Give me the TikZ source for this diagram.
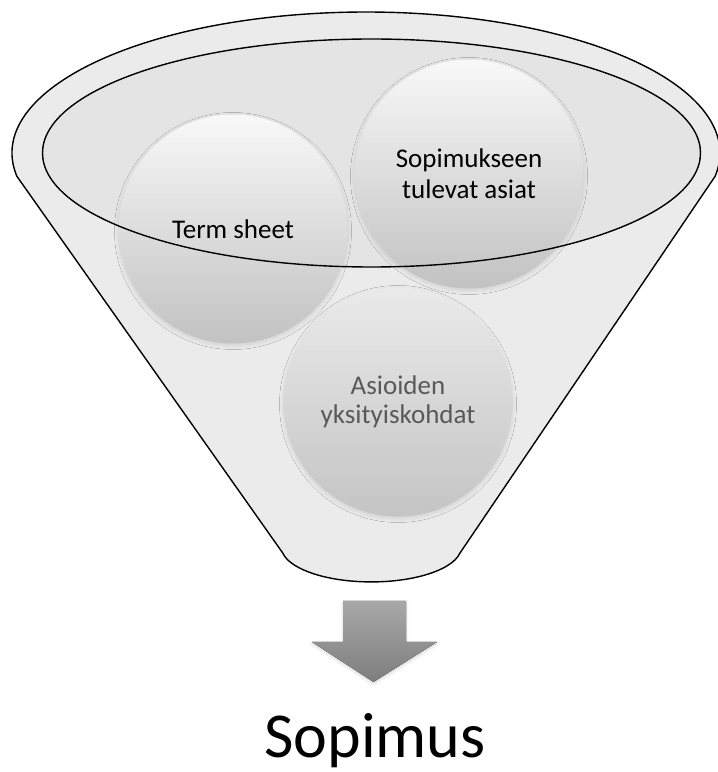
\documentclass[tikz,border=0pt]{standalone}
\usepackage{fontspec}
\setmainfont{Carlito}
\usetikzlibrary{shadows.blur}
\definecolor{funnelfill}{HTML}{EBEBEB}
\definecolor{innerfill}{HTML}{E4E4E4}
\definecolor{ballTop}{HTML}{F8F8F8}
\definecolor{ballBot}{HTML}{C2C2C2}
\definecolor{ball3Top}{HTML}{EAEAEA}
\definecolor{ball3Bot}{HTML}{C4C4C4}
\definecolor{txtgray}{HTML}{595959}
\definecolor{arrTop}{HTML}{A8A8A8}
\definecolor{arrBot}{HTML}{7E7E7E}
\tikzset{
  outline/.style={draw=black, line width=1.4pt},
  ball/.style={circle, minimum size=229pt, inner sep=0pt, align=center,
    top color=ballTop, bottom color=ballBot,
    blur shadow={shadow blur steps=8, shadow xshift=0pt, shadow yshift=-2pt,
      shadow blur radius=4pt, shadow opacity=12},
    font=\fontsize{27}{31}\selectfont},
  ballpale/.style={ball, top color=ball3Top, bottom color=ball3Bot,
    text=txtgray, font=\fontsize{27}{29}\selectfont},
}
\begin{document}
\begin{tikzpicture}[x=1pt,y=1pt]
\useasboundingbox (0,0) rectangle (718,772);
% funnel body
\draw[outline, fill=funnelfill]
  (366,619) ++(189.5:354 and 141) coordinate (fl)
  arc[start angle=189.5, end angle=-9.5, x radius=354, y radius=141] coordinate (fr)
  -- (460,219) coordinate (br)
  arc[start angle=-10, end angle=-170, x radius=90, y radius=35] coordinate (bl)
  -- cycle;
% inner rim fill
\fill[innerfill] (371.5,619) ellipse[x radius=329, y radius=114];
% balls
\node[ball] (term) at (233,543) {Term sheet};
\node[ball] (sop) at (469,598) {Sopimukseen\\tulevat asiat};
\node[ballpale] (asi) at (398,370) {Asioiden\\yksityiskohdat};
% inner rim outline on top
\draw[outline] (371.5,619) ellipse[x radius=329, y radius=114];
% arrow
\coordinate (arrowtip) at (373.5,90);
\fill[top color=arrTop, bottom color=arrBot,
  blur shadow={shadow blur steps=6, shadow xshift=0pt, shadow yshift=-2pt,
      shadow blur radius=3pt, shadow opacity=15}]
  (343,171) -- (406,171) -- (406,130) -- (437,130) -- (arrowtip)
  -- (312,130) -- (343,130) -- cycle;
% result
\node[anchor=base, font=\fontsize{64}{70}\selectfont, inner sep=0pt] (res) at (375,14.5) {Sopimus};
\end{tikzpicture}
\end{document}
